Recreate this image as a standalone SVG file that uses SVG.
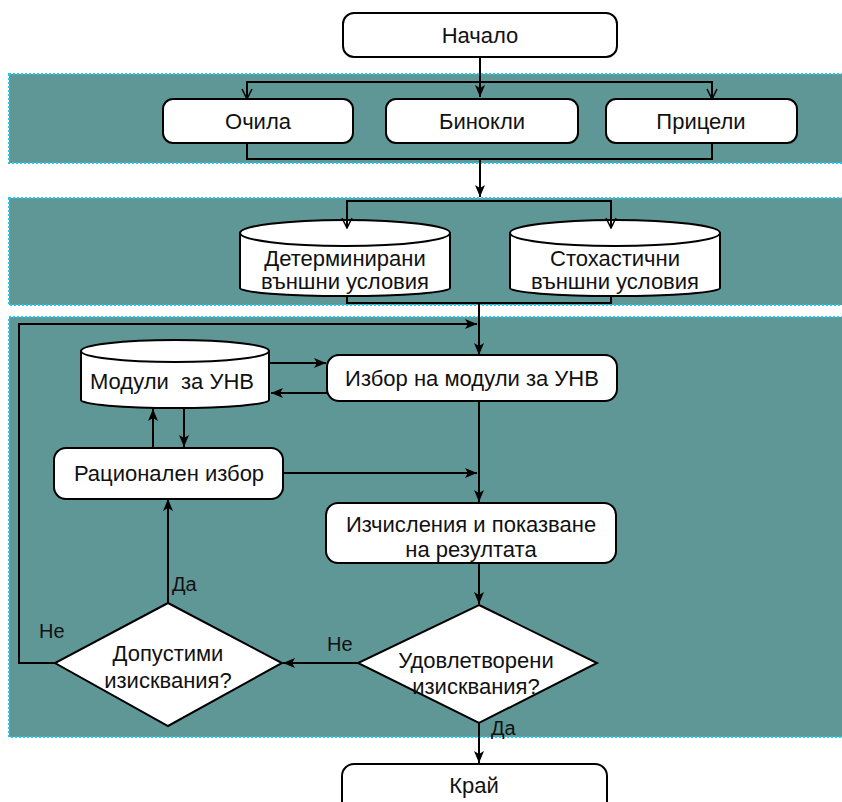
<svg xmlns="http://www.w3.org/2000/svg" width="842" height="802" viewBox="0 0 842 802">
<defs>
<marker id="af" markerWidth="12" markerHeight="10" refX="12" refY="5" orient="auto" markerUnits="userSpaceOnUse"><path d="M0,0 L12,5 L0,10 L3,5 Z" fill="#000"/></marker>
<marker id="ao" markerWidth="12" markerHeight="12" refX="11" refY="6" orient="auto" markerUnits="userSpaceOnUse"><path d="M1,1 L11,6 L1,11" fill="none" stroke="#000" stroke-width="1.5"/></marker>
</defs>
<style>
.band{fill:#5f9797;stroke:#1ec8f0;stroke-width:2;stroke-dasharray:2 2}
.box{fill:#fff;stroke:#000;stroke-width:2}
.t{font-family:"Liberation Sans",Arial,sans-serif;font-size:22px;fill:#111;text-anchor:middle}
.lbl{font-family:"Liberation Sans",Arial,sans-serif;font-size:20px;fill:#111}
.c{fill:none;stroke:#000;stroke-width:2}
</style>
<rect width="842" height="802" fill="#fff"/>
<rect class="band" x="9" y="74" width="840" height="89"/>
<rect class="band" x="9" y="198" width="840" height="107"/>
<rect class="band" x="9" y="317" width="840" height="420"/>

<g id="start">
<rect class="box" x="343" y="13" width="274" height="44" rx="11"/>
<text class="t" x="480" y="43">Начало</text>
</g>
<g id="ochila">
<rect class="box" x="163" y="99" width="190" height="44" rx="10"/>
<text class="t" x="258" y="129">Очила</text>
</g>
<g id="binokli">
<rect class="box" x="386" y="99" width="192" height="44" rx="10"/>
<text class="t" x="482" y="129">Бинокли</text>
</g>
<g id="pritseli">
<rect class="box" x="606" y="99" width="191" height="44" rx="10"/>
<text class="t" x="701" y="129">Прицели</text>
</g>
<g id="determ">
<path class="box" d="M240,233 V288 A105,8 0 0,0 450,288 V233 Z"/>
<ellipse class="box" cx="345" cy="233" rx="105" ry="13"/>
<text class="t" x="345" y="266">Детерминирани</text>
<text class="t" x="345" y="289">външни условия</text>
</g>
<g id="stoh">
<path class="box" d="M510,233 V288 A105,8 0 0,0 720,288 V233 Z"/>
<ellipse class="box" cx="615" cy="233" rx="105" ry="13"/>
<text class="t" x="615" y="266">Стохастични</text>
<text class="t" x="615" y="289">външни условия</text>
</g>
<g id="moduli">
<path class="box" d="M81,351 V400 A94,8 0 0,0 269,400 V351 Z"/>
<ellipse class="box" cx="175" cy="351" rx="94" ry="11"/>
<text class="t" x="172" y="389" xml:space="preserve">Модули  за УНВ</text>
</g>
<g id="izbor">
<rect class="box" x="327" y="355" width="290" height="46" rx="12"/>
<text class="t" x="472" y="386">Избор на модули за УНВ</text>
</g>
<g id="ratsionalen">
<rect class="box" x="54" y="448" width="229" height="51" rx="12"/>
<text class="t" x="169" y="481">Рационален избор</text>
</g>
<g id="izchislenia">
<rect class="box" x="326" y="503" width="290" height="60" rx="12"/>
<text class="t" x="471" y="532">Изчисления и показване</text>
<text class="t" x="471" y="557">на резултата</text>
</g>
<g id="udovl">
<path class="box" d="M479,605 L597,663 L479,723 L358,663 Z"/>
<text class="t" x="476" y="668">Удовлетворени</text>
<text class="t" x="476" y="694">изисквания?</text>
</g>
<g id="dopustimi">
<path class="box" d="M168,603 L282,663 L168,726 L55,663 Z"/>
<text class="t" x="168" y="661">Допустими</text>
<text class="t" x="168" y="688">изисквания?</text>
</g>
<g id="krai">
<rect class="box" x="342" y="764" width="265" height="50" rx="12"/>
<text class="t" x="474" y="793">Край</text>
</g>

<g id="connectors">
<path class="c" d="M480,57 V97" marker-end="url(#af)"/>
<path class="c" d="M247,99 V82 H712 V99"/>
<path class="c" d="M247,88 V99" marker-end="url(#ao)"/>
<path class="c" d="M712,88 V99" marker-end="url(#ao)"/>
<path class="c" d="M247,143 V159 H712 V143"/>
<path class="c" d="M480,159 V197" marker-end="url(#af)"/>
<path class="c" d="M347,228 V201 H611 V228"/>
<path class="c" d="M347,216 V228" marker-end="url(#ao)"/>
<path class="c" d="M611,216 V228" marker-end="url(#ao)"/>
<path class="c" d="M347,296 V303 H611 V296"/>
<path class="c" d="M479,303 V355" marker-end="url(#af)"/>
<path class="c" d="M55,663 H19 V324 H477" marker-end="url(#af)"/>
<path class="c" d="M269,363 H326" marker-end="url(#af)"/>
<path class="c" d="M327,393 H271" marker-end="url(#af)"/>
<path class="c" d="M153,448 V409" marker-end="url(#af)"/>
<path class="c" d="M184,409 V447" marker-end="url(#af)"/>
<path class="c" d="M283,473 H477" marker-end="url(#af)"/>
<path class="c" d="M479,401 V502" marker-end="url(#af)"/>
<path class="c" d="M479,563 V604" marker-end="url(#af)"/>
<path class="c" d="M358,663 H283" marker-end="url(#af)"/>
<path class="c" d="M168,603 V499" marker-end="url(#af)"/>
<path class="c" d="M479,723 V763" marker-end="url(#af)"/>
<text class="lbl" x="172" y="591">Да</text>
<text class="lbl" x="39" y="638">Не</text>
<text class="lbl" x="327" y="651">Не</text>
<text class="lbl" x="491" y="735">Да</text>
</g>
</svg>
